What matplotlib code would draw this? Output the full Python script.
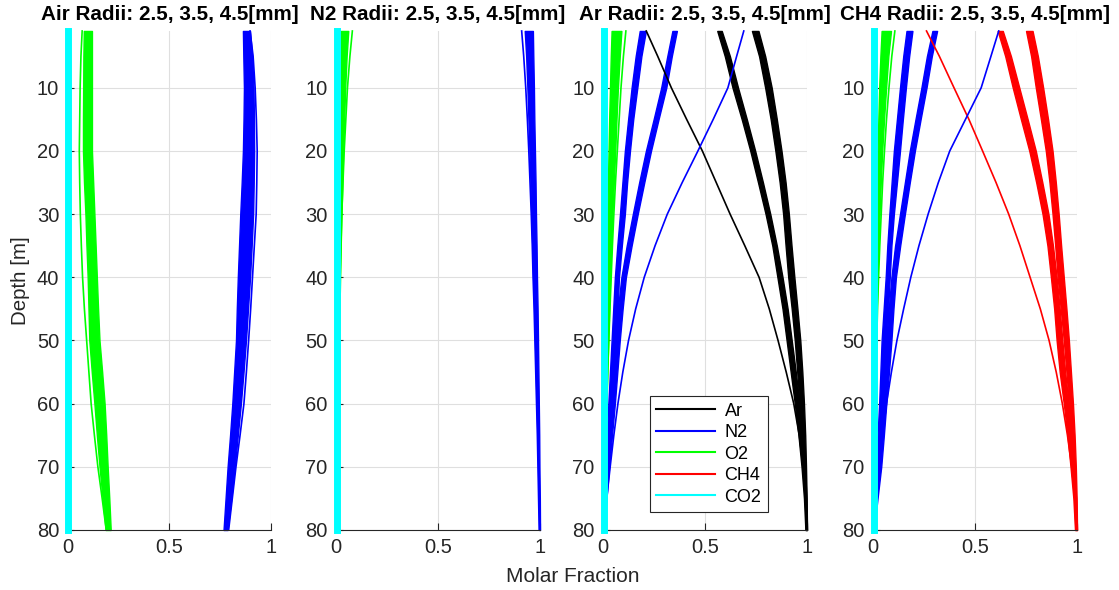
# Molar fraction of gases in rising bubbles vs depth, 4 bubble compositions
import numpy as np
import matplotlib
matplotlib.use("Agg")
import matplotlib.pyplot as plt
from matplotlib.lines import Line2D

plt.rcParams['font.family'] = ['Liberation Sans', 'DejaVu Sans']

# depth levels [m]
depth = [1, 5, 10, 15, 20, 25, 30, 35, 40, 45, 50, 55, 60, 65, 70, 75, 80]
n = len(depth)

# --- Air bubbles
air_co2 = [0.003] * n
air_ar = [0.009] * n
air_o2_lo = [0.080, 0.078, 0.077, 0.076, 0.076, 0.081, 0.088, 0.093, 0.099, 0.103, 0.107, 0.119, 0.132, 0.144, 0.157, 0.172, 0.187]
air_o2_hi = [0.120, 0.120, 0.120, 0.120, 0.120, 0.126, 0.132, 0.138, 0.144, 0.150, 0.157, 0.170, 0.182, 0.190, 0.197, 0.205, 0.212]
air_o2_thin = [0.072, 0.066, 0.062, 0.060, 0.058, 0.060, 0.063, 0.068, 0.074, 0.083, 0.094, 0.105, 0.116, 0.132, 0.149, 0.170, 0.190]
air_n2_lo = [0.860, 0.862, 0.865, 0.863, 0.860, 0.854, 0.847, 0.841, 0.835, 0.830, 0.826, 0.817, 0.808, 0.797, 0.785, 0.775, 0.765]
air_n2_hi = [0.895, 0.905, 0.912, 0.914, 0.915, 0.913, 0.910, 0.903, 0.895, 0.885, 0.875, 0.863, 0.850, 0.835, 0.820, 0.803, 0.785]
air_n2_thin = [0.895, 0.910, 0.920, 0.926, 0.930, 0.928, 0.925, 0.916, 0.907, 0.898, 0.888, 0.877, 0.865, 0.846, 0.826, 0.808, 0.790]

# --- N2 bubbles
n2_co2 = [0.003] * n
n2_ar = [0.008] * n
n2_o2_lo = [0.020, 0.018, 0.017, 0.016, 0.015, 0.013, 0.012, 0.011, 0.010, 0.008, 0.007, 0.006, 0.005, 0.004, 0.003, 0.002, 0.002]
n2_o2_hi = [0.060, 0.052, 0.045, 0.040, 0.035, 0.031, 0.027, 0.023, 0.020, 0.017, 0.014, 0.012, 0.010, 0.008, 0.006, 0.005, 0.004]
n2_o2_thin = [0.080, 0.068, 0.056, 0.048, 0.040, 0.034, 0.028, 0.024, 0.020, 0.017, 0.014, 0.012, 0.010, 0.008, 0.006, 0.005, 0.004]
n2_n2_lo = [0.925, 0.932, 0.938, 0.943, 0.948, 0.953, 0.957, 0.962, 0.966, 0.971, 0.975, 0.979, 0.983, 0.987, 0.990, 0.993, 0.996]
n2_n2_hi = [0.965, 0.967, 0.970, 0.972, 0.975, 0.978, 0.980, 0.983, 0.985, 0.988, 0.990, 0.992, 0.994, 0.996, 0.997, 0.999, 1.000]
n2_n2_thin = [0.910, 0.920, 0.930, 0.938, 0.945, 0.951, 0.957, 0.962, 0.966, 0.971, 0.975, 0.979, 0.983, 0.987, 0.990, 0.993, 0.996]

# --- Ar bubbles
ar_co2 = [0.003] * n
ar_o2_lo = [0.042, 0.038, 0.034, 0.030, 0.027, 0.024, 0.021, 0.019, 0.017, 0.014, 0.012, 0.010, 0.008, 0.006, 0.004, 0.003, 0.002]
ar_o2_hi = [0.090, 0.082, 0.073, 0.066, 0.060, 0.053, 0.046, 0.040, 0.035, 0.030, 0.026, 0.021, 0.017, 0.013, 0.009, 0.006, 0.004]
ar_o2_thin = [0.112, 0.100, 0.088, 0.079, 0.070, 0.061, 0.053, 0.046, 0.040, 0.034, 0.028, 0.023, 0.018, 0.014, 0.010, 0.007, 0.004]
ar_n2a_lo = [0.180, 0.160, 0.140, 0.123, 0.107, 0.095, 0.083, 0.070, 0.058, 0.050, 0.042, 0.034, 0.026, 0.019, 0.012, 0.006, 0.002]
ar_n2a_hi = [0.210, 0.188, 0.168, 0.148, 0.132, 0.118, 0.107, 0.092, 0.078, 0.072, 0.066, 0.054, 0.042, 0.032, 0.022, 0.012, 0.005]
ar_n2b_lo = [0.340, 0.315, 0.285, 0.248, 0.210, 0.177, 0.146, 0.116, 0.090, 0.073, 0.058, 0.049, 0.040, 0.030, 0.020, 0.010, 0.002]
ar_n2b_hi = [0.362, 0.337, 0.310, 0.272, 0.235, 0.202, 0.170, 0.140, 0.112, 0.096, 0.082, 0.070, 0.058, 0.044, 0.030, 0.017, 0.005]
ar_n2_thin = [0.690, 0.655, 0.612, 0.540, 0.465, 0.388, 0.315, 0.255, 0.202, 0.160, 0.125, 0.097, 0.073, 0.053, 0.035, 0.018, 0.002]
ar_ar_thin = [0.212, 0.268, 0.335, 0.410, 0.487, 0.555, 0.623, 0.695, 0.765, 0.815, 0.858, 0.898, 0.935, 0.962, 0.981, 0.993, 1.000]
ar_ara_lo = [0.560, 0.597, 0.635, 0.680, 0.722, 0.760, 0.797, 0.830, 0.855, 0.880, 0.900, 0.920, 0.940, 0.958, 0.973, 0.985, 0.992]
ar_ara_hi = [0.582, 0.622, 0.662, 0.705, 0.746, 0.784, 0.820, 0.852, 0.880, 0.905, 0.925, 0.945, 0.963, 0.978, 0.990, 0.997, 1.000]
ar_arb_lo = [0.730, 0.765, 0.795, 0.822, 0.845, 0.866, 0.883, 0.895, 0.908, 0.925, 0.940, 0.952, 0.963, 0.973, 0.982, 0.989, 0.994]
ar_arb_hi = [0.762, 0.795, 0.827, 0.852, 0.875, 0.895, 0.911, 0.924, 0.938, 0.953, 0.967, 0.977, 0.985, 0.991, 0.995, 0.998, 1.000]

# --- CH4 bubbles
ch4_co2 = [0.003] * n
ch4_ar = [0.010] * n
ch4_o2_lo = [0.042, 0.036, 0.030, 0.026, 0.022, 0.019, 0.016, 0.013, 0.011, 0.009, 0.007, 0.005, 0.004, 0.003, 0.002, 0.001, 0.001]
ch4_o2_hi = [0.088, 0.075, 0.064, 0.054, 0.045, 0.038, 0.032, 0.027, 0.022, 0.018, 0.015, 0.012, 0.009, 0.007, 0.005, 0.003, 0.002]
ch4_o2_thin = [0.107, 0.092, 0.078, 0.066, 0.056, 0.047, 0.040, 0.033, 0.027, 0.022, 0.018, 0.014, 0.011, 0.008, 0.006, 0.004, 0.002]
ch4_n2a_lo = [0.164, 0.148, 0.132, 0.117, 0.102, 0.091, 0.080, 0.070, 0.062, 0.052, 0.042, 0.036, 0.030, 0.022, 0.015, 0.008, 0.002]
ch4_n2a_hi = [0.193, 0.177, 0.161, 0.146, 0.132, 0.117, 0.102, 0.090, 0.082, 0.074, 0.066, 0.058, 0.050, 0.040, 0.030, 0.018, 0.005]
ch4_n2b_lo = [0.291, 0.264, 0.237, 0.208, 0.180, 0.156, 0.132, 0.108, 0.090, 0.077, 0.066, 0.056, 0.045, 0.033, 0.021, 0.010, 0.002]
ch4_n2b_hi = [0.314, 0.288, 0.262, 0.233, 0.205, 0.180, 0.156, 0.133, 0.112, 0.100, 0.090, 0.078, 0.065, 0.053, 0.040, 0.022, 0.005]
ch4_n2_thin = [0.616, 0.578, 0.530, 0.453, 0.376, 0.320, 0.270, 0.225, 0.185, 0.150, 0.117, 0.090, 0.066, 0.047, 0.030, 0.015, 0.002]
ch4_ch4_thin = [0.262, 0.325, 0.397, 0.470, 0.537, 0.603, 0.665, 0.720, 0.770, 0.820, 0.863, 0.898, 0.928, 0.953, 0.974, 0.990, 1.000]
ch4_cha_lo = [0.611, 0.648, 0.685, 0.725, 0.766, 0.800, 0.831, 0.855, 0.872, 0.888, 0.900, 0.915, 0.935, 0.953, 0.968, 0.982, 0.990]
ch4_cha_hi = [0.636, 0.676, 0.717, 0.758, 0.798, 0.830, 0.860, 0.882, 0.900, 0.915, 0.928, 0.942, 0.958, 0.972, 0.985, 0.995, 1.000]
ch4_chb_lo = [0.750, 0.775, 0.798, 0.823, 0.847, 0.865, 0.880, 0.893, 0.905, 0.920, 0.935, 0.948, 0.960, 0.970, 0.978, 0.986, 0.992]
ch4_chb_hi = [0.782, 0.808, 0.834, 0.858, 0.880, 0.896, 0.910, 0.922, 0.935, 0.948, 0.960, 0.970, 0.980, 0.988, 0.994, 0.998, 1.000]

titles = ["Air Radii: 2.5, 3.5, 4.5[mm]", "N2 Radii: 2.5, 3.5, 4.5[mm]",
          "Ar Radii: 2.5, 3.5, 4.5[mm]", "CH4 Radii: 2.5, 3.5, 4.5[mm]"]
gas_names = ["Ar", "N2", "O2", "CH4", "CO2"]
gas_colors = {"Ar": "k", "N2": "#0000ff", "O2": "#00ff00", "CH4": "#ff0000", "CO2": "#00ffff"}
txt = "#262626"

fig = plt.figure(figsize=(11.19, 5.90), dpi=100)
lefts = [0.0603, 0.3003, 0.5389, 0.7802]
axes = [fig.add_axes([l, 0.1017, 0.1823, 0.8458]) for l in lefts]


def bundle(ax, lo, hi, gas):
    ax.fill_betweenx(depth, lo, hi, color=gas_colors[gas], lw=1.0, clip_on=False)


def thin(ax, x, gas, lw=1.2):
    ax.plot(x, depth, color=gas_colors[gas], lw=lw, clip_on=False)


def base(ax, co2):
    ax.plot(co2, depth, color=gas_colors["CO2"], lw=5, clip_on=False, zorder=3)


# Air
ax = axes[0]
thin(ax, air_ar, "Ar")
bundle(ax, air_o2_lo, air_o2_hi, "O2")
thin(ax, air_o2_thin, "O2")
bundle(ax, air_n2_lo, air_n2_hi, "N2")
thin(ax, air_n2_thin, "N2")
base(ax, air_co2)

# N2
ax = axes[1]
thin(ax, n2_ar, "Ar")
bundle(ax, n2_o2_lo, n2_o2_hi, "O2")
thin(ax, n2_o2_thin, "O2")
bundle(ax, n2_n2_lo, n2_n2_hi, "N2")
thin(ax, n2_n2_thin, "N2")
base(ax, n2_co2)

# Ar
ax = axes[2]
thin(ax, ar_ar_thin, "Ar")
bundle(ax, ar_ara_lo, ar_ara_hi, "Ar")
bundle(ax, ar_arb_lo, ar_arb_hi, "Ar")
thin(ax, ar_n2_thin, "N2")
bundle(ax, ar_n2a_lo, ar_n2a_hi, "N2")
bundle(ax, ar_n2b_lo, ar_n2b_hi, "N2")
bundle(ax, ar_o2_lo, ar_o2_hi, "O2")
thin(ax, ar_o2_thin, "O2")
base(ax, ar_co2)

# CH4
ax = axes[3]
thin(ax, ch4_ar, "Ar")
thin(ax, ch4_ch4_thin, "CH4")
bundle(ax, ch4_cha_lo, ch4_cha_hi, "CH4")
bundle(ax, ch4_chb_lo, ch4_chb_hi, "CH4")
thin(ax, ch4_n2_thin, "N2")
bundle(ax, ch4_n2a_lo, ch4_n2a_hi, "N2")
bundle(ax, ch4_n2b_lo, ch4_n2b_hi, "N2")
bundle(ax, ch4_o2_lo, ch4_o2_hi, "O2")
thin(ax, ch4_o2_thin, "O2")
base(ax, ch4_co2)

for ax, t in zip(axes, titles):
    ax.set_xlim(0, 1)
    ax.set_ylim(80, 1)
    ax.set_xticks([0, 0.5, 1])
    ax.set_xticklabels(["0", "0.5", "1"])
    ax.set_yticks(range(10, 81, 10))
    ax.grid(True, color="#dfdfdf", lw=0.8)
    ax.set_axisbelow(True)
    ax.spines["top"].set_visible(False)
    ax.spines["right"].set_visible(False)
    for s in ("left", "bottom"):
        ax.spines[s].set_color(txt)
        ax.spines[s].set_linewidth(0.8)
    ax.tick_params(direction="in", length=5, width=0.8, colors=txt, labelsize=14.5, pad=6)
    ax.set_title(t, fontsize=14.9, fontweight="bold", pad=8)

axes[0].set_ylabel("Depth [m]", fontsize=14.8, color=txt, labelpad=5)
fig.text(573 / 1119, 1 - 577 / 590, "Molar Fraction", fontsize=15, color=txt,
         ha="center", va="center")

handles = [Line2D([], [], color=gas_colors[g], lw=1.5) for g in gas_names]
leg = axes[2].legend(handles, gas_names, loc="lower left", bbox_to_anchor=(0.228, 0.036),
                     fontsize=13, frameon=True, fancybox=False, framealpha=1,
                     handlelength=3.3, borderpad=0.35, labelspacing=0.25,
                     handletextpad=0.5, borderaxespad=0)
leg.get_frame().set_edgecolor(txt)
leg.get_frame().set_linewidth(0.8)

fig.savefig("out.png", dpi=100)
